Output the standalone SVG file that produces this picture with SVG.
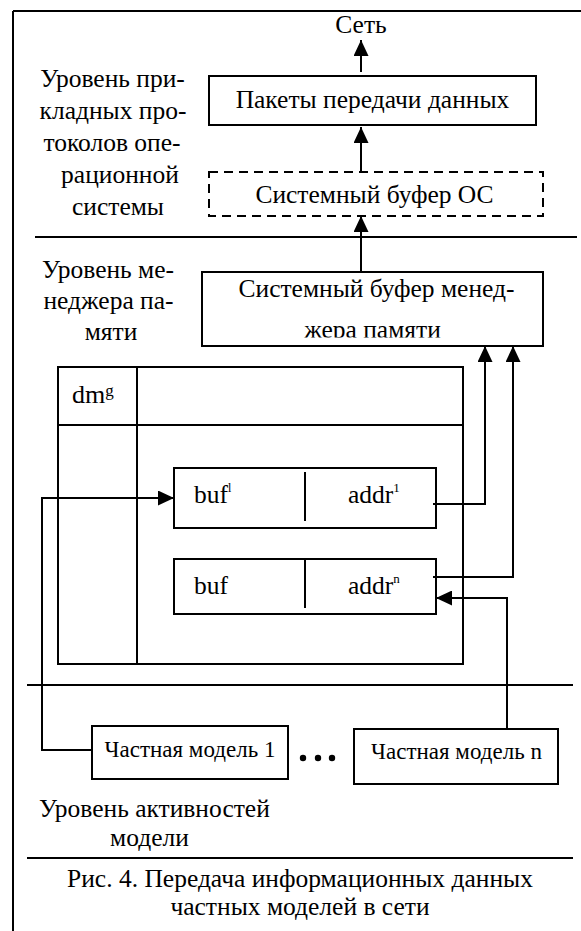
<svg xmlns="http://www.w3.org/2000/svg" width="581" height="931" viewBox="0 0 581 931">
  <style>
    text { font-family: "Liberation Serif", "Times New Roman", serif; fill: #000; }
    .t24 { font-size: 25.5px; }
    .t22 { font-size: 23px; }
    .mid { text-anchor: middle; }
    .box { fill: #fff; stroke: #000; stroke-width: 2; }
    .dash { fill: #fff; stroke: #000; stroke-width: 2; stroke-dasharray: 9 6; }
    .rule { stroke: #000; stroke-width: 2; fill: none; }
    .conn { stroke: #000; stroke-width: 2; fill: none; }
  </style>
  <defs>
    <marker id="arrow" viewBox="0 0 16 15" refX="16" refY="7.5" markerWidth="16" markerHeight="15" markerUnits="userSpaceOnUse" orient="auto">
      <path d="M0,0 L16,7.5 L0,15 z" fill="#000"/>
    </marker>
    <clipPath id="mgrClip">
      <rect x="202" y="272" width="341" height="65.5"/>
    </clipPath>
  </defs>

  <!-- page frame and level separators -->
  <g id="frame">
    <line class="rule" x1="13" y1="11" x2="581" y2="11"/>
    <line class="rule" x1="13" y1="11" x2="13" y2="931"/>
    <line class="rule" x1="35" y1="237" x2="577" y2="237"/>
    <line class="rule" x1="27" y1="685" x2="573" y2="685"/>
    <line class="rule" x1="27" y1="858" x2="573" y2="858"/>
  </g>

  <!-- level labels -->
  <g id="label-os">
    <text class="t24 mid" x="112.5" y="87">Уровень при-</text>
    <text class="t24 mid" x="113" y="119">кладных про-</text>
    <text class="t24 mid" x="112" y="151">токолов опе-</text>
    <text class="t24 mid" x="120" y="183">рационной</text>
    <text class="t24 mid" x="118" y="215">системы</text>
  </g>
  <g id="label-mm">
    <text class="t24 mid" x="108" y="278">Уровень ме-</text>
    <text class="t24 mid" x="108.5" y="309">неджера па-</text>
    <text class="t24 mid" x="111" y="340">мяти</text>
  </g>
  <g id="label-act">
    <text class="t24" x="39" y="817">Уровень активностей</text>
    <text class="t24 mid" x="149.5" y="846">модели</text>
  </g>

  <g id="net">
    <text class="t24 mid" x="361" y="33">Сеть</text>
  </g>

  <g id="packets">
    <rect class="box" x="209" y="76" width="327" height="49"/>
    <text class="t24 mid" x="372.5" y="108">Пакеты передачи данных</text>
  </g>

  <g id="os-buffer">
    <rect class="dash" x="209" y="172" width="334" height="44"/>
    <text class="t24 mid" x="374.5" y="203">Системный буфер ОС</text>
  </g>

  <g id="mm-buffer">
    <rect class="box" x="202" y="272" width="341" height="74"/>
    <text class="t24 mid" x="376.5" y="297">Системный буфер менед-</text>
    <text class="t24 mid" x="372.5" y="338" clip-path="url(#mgrClip)">жера памяти</text>
  </g>

  <g id="dm-table">
    <rect class="box" x="58" y="367" width="405" height="297"/>
    <line class="rule" x1="137" y1="367" x2="137" y2="664"/>
    <line class="rule" x1="58" y1="425" x2="463" y2="425"/>
    <text x="72" y="403" style="font-size:26px">dm<tspan dy="-7" style="font-size:17px">g</tspan></text>
  </g>

  <g id="entry-1">
    <rect class="box" x="174" y="468" width="262" height="60"/>
    <line class="rule" x1="305" y1="472" x2="305" y2="521"/>
    <text class="t24" x="194" y="503">buf<tspan dy="-11" font-size="12">l</tspan></text>
    <text class="t24" x="348" y="503">addr<tspan dy="-11" font-size="13">1</tspan></text>
  </g>

  <g id="entry-n">
    <rect class="box" x="174" y="559" width="262" height="55"/>
    <line class="rule" x1="305" y1="559" x2="305" y2="608"/>
    <text class="t24" x="194" y="594">buf</text>
    <text class="t24" x="348" y="594">addr<tspan dy="-11" font-size="13">n</tspan></text>
  </g>

  <g id="model-1">
    <rect class="box" x="92" y="726" width="196" height="53"/>
    <text class="t22 mid" x="190" y="757">Частная модель 1</text>
  </g>

  <g id="ellipsis">
    <circle cx="303" cy="758" r="3.2" fill="#000"/>
    <circle cx="318" cy="758" r="3.2" fill="#000"/>
    <circle cx="332" cy="758" r="3.2" fill="#000"/>
  </g>

  <g id="model-n">
    <rect class="box" x="354" y="729" width="204" height="55"/>
    <text class="t22 mid" x="456.5" y="759">Частная модель n</text>
  </g>

  <g id="caption">
    <text class="t24 mid" x="300" y="887">Рис. 4. Передача информационных данных</text>
    <text class="t24 mid" x="300" y="915">частных моделей в сети</text>
  </g>

  <!-- connectors -->
  <g id="connectors">
    <path class="conn" d="M361,72 V40" marker-end="url(#arrow)"/>
    <path class="conn" d="M361,171 V127" marker-end="url(#arrow)"/>
    <path class="conn" d="M361,271 V216" marker-end="url(#arrow)"/>
    <path class="conn" d="M433,504 H485 V346" marker-end="url(#arrow)"/>
    <path class="conn" d="M433,577 H513 V346" marker-end="url(#arrow)"/>
    <path class="conn" d="M507,729 V598 H436" marker-end="url(#arrow)"/>
    <path class="conn" d="M92,750 H42 V498 H174" marker-end="url(#arrow)"/>
  </g>
</svg>
